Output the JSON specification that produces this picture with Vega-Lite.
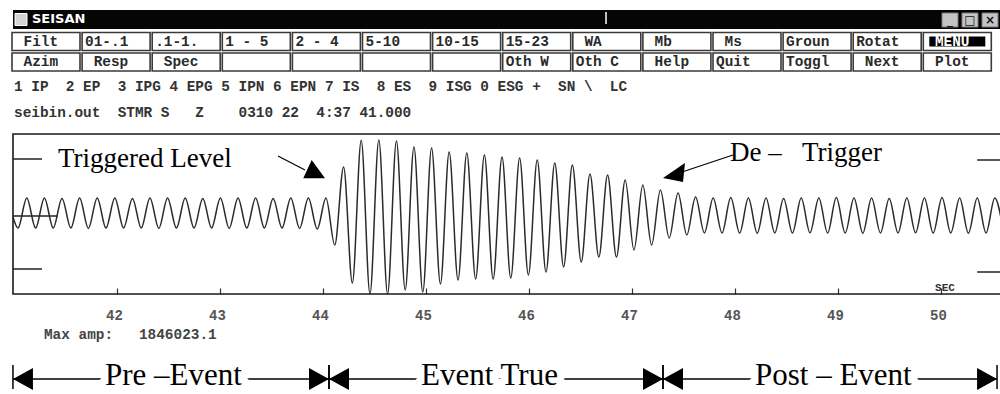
{
  "$schema": "https://vega.github.io/schema/vega-lite/v6.json",
  "width": 1000,
  "height": 394,
  "autosize": {"type": "none"},
  "padding": 0,
  "background": "white",
  "config": {"view": {"stroke": null}},
  "datasets": {
    "trace": [
      {"t":40.990,"amp":-75000},{"t":41.039,"amp":-350000},{"t":41.124,"amp":400000},{"t":41.210,"amp":-350000},
      {"t":41.295,"amp":400000},{"t":41.381,"amp":-350000},{"t":41.466,"amp":390000},{"t":41.552,"amp":-350000},
      {"t":41.637,"amp":400000},{"t":41.722,"amp":-360000},{"t":41.808,"amp":400000},{"t":41.893,"amp":-350000},
      {"t":41.979,"amp":400000},{"t":42.064,"amp":-350000},{"t":42.150,"amp":390000},{"t":42.235,"amp":-350000},
      {"t":42.320,"amp":400000},{"t":42.406,"amp":-360000},{"t":42.491,"amp":400000},{"t":42.577,"amp":-350000},
      {"t":42.662,"amp":400000},{"t":42.748,"amp":-350000},{"t":42.833,"amp":390000},{"t":42.918,"amp":-350000},
      {"t":43.004,"amp":400000},{"t":43.089,"amp":-360000},{"t":43.175,"amp":400000},{"t":43.260,"amp":-350000},
      {"t":43.346,"amp":400000},{"t":43.431,"amp":-350000},{"t":43.516,"amp":390000},{"t":43.602,"amp":-350000},
      {"t":43.687,"amp":400000},{"t":43.773,"amp":-360000},{"t":43.858,"amp":400000},{"t":43.944,"amp":-375000},
      {"t":44.029,"amp":400000},{"t":44.114,"amp":-775000},{"t":44.200,"amp":1175000},{"t":44.285,"amp":-1725000},
      {"t":44.371,"amp":1846023},{"t":44.456,"amp":-2000000},{"t":44.542,"amp":1850000},{"t":44.627,"amp":-2000000},
      {"t":44.713,"amp":1825000},{"t":44.798,"amp":-1900000},{"t":44.883,"amp":1675000},{"t":44.969,"amp":-1950000},
      {"t":45.054,"amp":1650000},{"t":45.140,"amp":-1750000},{"t":45.225,"amp":1550000},{"t":45.311,"amp":-1650000},
      {"t":45.396,"amp":1525000},{"t":45.482,"amp":-1625000},{"t":45.567,"amp":1475000},{"t":45.652,"amp":-1625000},
      {"t":45.738,"amp":1425000},{"t":45.823,"amp":-1600000},{"t":45.909,"amp":1400000},{"t":45.994,"amp":-1525000},
      {"t":46.080,"amp":1350000},{"t":46.165,"amp":-1450000},{"t":46.250,"amp":1275000},{"t":46.336,"amp":-1325000},
      {"t":46.421,"amp":1225000},{"t":46.507,"amp":-1200000},{"t":46.592,"amp":1000000},{"t":46.678,"amp":-1075000},
      {"t":46.763,"amp":975000},{"t":46.849,"amp":-1075000},{"t":46.934,"amp":850000},{"t":47.019,"amp":-900000},
      {"t":47.105,"amp":725000},{"t":47.190,"amp":-775000},{"t":47.276,"amp":600000},{"t":47.361,"amp":-600000},
      {"t":47.447,"amp":525000},{"t":47.532,"amp":-525000},{"t":47.617,"amp":425000},{"t":47.703,"amp":-475000},
      {"t":47.788,"amp":400000},{"t":47.874,"amp":-475000},{"t":47.959,"amp":410000},{"t":48.045,"amp":-475000},
      {"t":48.130,"amp":400000},{"t":48.216,"amp":-480000},{"t":48.301,"amp":400000},{"t":48.386,"amp":-475000},
      {"t":48.472,"amp":390000},{"t":48.557,"amp":-475000},{"t":48.643,"amp":400000},{"t":48.728,"amp":-470000},
      {"t":48.814,"amp":400000},{"t":48.899,"amp":-475000},{"t":48.984,"amp":410000},{"t":49.070,"amp":-475000},
      {"t":49.155,"amp":400000},{"t":49.241,"amp":-480000},{"t":49.326,"amp":400000},{"t":49.412,"amp":-475000},
      {"t":49.497,"amp":390000},{"t":49.583,"amp":-475000},{"t":49.668,"amp":400000},{"t":49.753,"amp":-470000},
      {"t":49.839,"amp":400000},{"t":49.924,"amp":-475000},{"t":50.010,"amp":410000},{"t":50.095,"amp":-475000},
      {"t":50.181,"amp":400000},{"t":50.266,"amp":-480000},{"t":50.352,"amp":400000},{"t":50.437,"amp":-475000},
      {"t":50.522,"amp":400000},{"t":50.608,"amp":-475000}
    ],
    "markers": [
      {"from": 40.990, "to": 41.272, "level": 1375000},
      {"from": 40.990, "to": 41.272, "level": -1375000},
      {"from": 40.990, "to": 41.427, "level": -50000},
      {"from": 50.350, "to": 50.600, "level": 1350000},
      {"from": 50.350, "to": 50.600, "level": -1450000}
    ],
    "notes": [
      {"kind": "trigger", "note": "Triggered Level", "tx": 41.427, "ty": 1175000, "ax1": 43.563, "ay1": 1450000, "ax2": 43.825, "ay2": 1100000, "hx": 43.890, "hy": 1350000},
      {"kind": "detrigger", "note": "De –\u00a0\u00a0\u00a0Trigger", "tx": 47.951, "ty": 1325000, "ax1": 47.980, "ay1": 1475000, "ax2": 47.486, "ay2": 1050000, "hx": 47.301, "hy": 900000}
    ],
    "phases": [
      {"phase": "Pre –Event", "start": 40.990, "end": 44.058},
      {"phase": "Event True", "start": 44.058, "end": 47.301},
      {"phase": "Post – Event", "start": 47.301, "end": 50.544}
    ],
    "buttons": [
      {"row": 1, "col": 0, "label": "\u00a0Filt", "active": false},
      {"row": 1, "col": 1, "label": "01-.1", "active": false},
      {"row": 1, "col": 2, "label": ".1-1.", "active": false},
      {"row": 1, "col": 3, "label": "1\u00a0-\u00a05", "active": false},
      {"row": 1, "col": 4, "label": "2\u00a0-\u00a04", "active": false},
      {"row": 1, "col": 5, "label": "5-10", "active": false},
      {"row": 1, "col": 6, "label": "10-15", "active": false},
      {"row": 1, "col": 7, "label": "15-23", "active": false},
      {"row": 1, "col": 8, "label": "\u00a0WA", "active": false},
      {"row": 1, "col": 9, "label": "\u00a0Mb", "active": false},
      {"row": 1, "col": 10, "label": "\u00a0Ms", "active": false},
      {"row": 1, "col": 11, "label": "Groun", "active": false},
      {"row": 1, "col": 12, "label": "Rotat", "active": false},
      {"row": 1, "col": 13, "label": "\u00a0MENU", "active": true},
      {"row": 2, "col": 0, "label": "\u00a0Azim", "active": false},
      {"row": 2, "col": 1, "label": "\u00a0Resp", "active": false},
      {"row": 2, "col": 2, "label": "\u00a0Spec", "active": false},
      {"row": 2, "col": 3, "label": "", "active": false},
      {"row": 2, "col": 4, "label": "", "active": false},
      {"row": 2, "col": 5, "label": "", "active": false},
      {"row": 2, "col": 6, "label": "", "active": false},
      {"row": 2, "col": 7, "label": "Oth\u00a0W", "active": false},
      {"row": 2, "col": 8, "label": "Oth\u00a0C", "active": false},
      {"row": 2, "col": 9, "label": "\u00a0Help", "active": false},
      {"row": 2, "col": 10, "label": "Quit", "active": false},
      {"row": 2, "col": 11, "label": "Toggl", "active": false},
      {"row": 2, "col": 12, "label": "\u00a0Next", "active": false},
      {"row": 2, "col": 13, "label": "\u00a0Plot", "active": false}
    ]
  },
  "resolve": {"scale": {"x": "independent", "y": "independent"}, "axis": {"x": "independent", "y": "independent"}},
  "layer": [
    {
      "resolve": {"axis": {"x": "independent", "y": "independent"}},
      "layer": [
        {
          "data": {"values": [{"frame": "trace"}]},
          "mark": {"type": "rect", "fill": "transparent", "stroke": "#1a1a1a", "strokeWidth": 1.6},
          "encoding": {
            "x": {"datum": 40.9903, "type": "quantitative", "scale": {"domain": [40.8641, 50.5728], "nice": false, "zero": false}, "axis": null},
            "x2": {"datum": 50.7},
            "y": {"datum": 2000000, "type": "quantitative", "scale": {"domain": [-4500000, 5350000], "nice": false, "zero": false}, "axis": null},
            "y2": {"datum": -2000000}
          }
        },
        {
          "data": {"name": "markers"},
          "mark": {"type": "rule", "stroke": "#222222", "strokeWidth": 1.5},
          "encoding": {
            "x": {"field": "from", "type": "quantitative", "scale": {"domain": [40.8641, 50.5728], "nice": false, "zero": false}, "axis": null},
            "x2": {"field": "to"},
            "y": {"field": "level", "type": "quantitative", "scale": {"domain": [-4500000, 5350000], "nice": false, "zero": false}, "axis": null}
          }
        },
        {
          "data": {"name": "trace"},
          "mark": {"type": "line", "interpolate": "monotone", "stroke": "#2b2b2b", "strokeWidth": 1.5},
          "encoding": {
            "x": {"field": "t", "type": "quantitative", "scale": {"domain": [40.8641, 50.5728], "nice": false, "zero": false},
              "axis": {"orient": "bottom", "offset": -100, "values": [42, 43, 44, 45, 46, 47, 48, 49, 50], "format": "d", "domain": false, "grid": false, "title": null,
                "ticks": true, "tickSize": -6, "tickColor": "#333333", "tickWidth": 1.2, "labelFlush": false, "labelOverlap": false,
                "labelFont": "Liberation Mono", "labelFontSize": 14, "labelFontWeight": "bold", "labelColor": "#555555", "labelPadding": 20, "labelOffset": -3}},
            "y": {"field": "amp", "type": "quantitative", "scale": {"domain": [-4500000, 5350000], "nice": false, "zero": false}, "axis": null}
          }
        },
        {
          "data": {"values": [{"unit": "SEC", "maxamp": "Max\u00a0amp:\u00a0\u00a0\u00a01846023.1"}]},
          "mark": {"type": "text", "font": "Liberation Mono", "fontWeight": "bold", "fontSize": 11, "fill": "#333333", "align": "center", "baseline": "middle"},
          "encoding": {
            "x": {"datum": 50.039, "type": "quantitative", "scale": {"domain": [40.8641, 50.5728], "nice": false, "zero": false}, "axis": null},
            "y": {"datum": -1850000, "type": "quantitative", "scale": {"domain": [-4500000, 5350000], "nice": false, "zero": false}, "axis": null},
            "text": {"field": "unit"}
          }
        },
        {
          "data": {"values": [{"unit": "SEC", "maxamp": "Max\u00a0amp:\u00a0\u00a0\u00a01846023.1"}]},
          "mark": {"type": "text", "font": "Liberation Mono", "fontWeight": "bold", "fontSize": 14.4, "fill": "#444444", "align": "left", "baseline": "middle"},
          "encoding": {
            "x": {"datum": 41.291, "type": "quantitative", "scale": {"domain": [40.8641, 50.5728], "nice": false, "zero": false}, "axis": null},
            "y": {"datum": -3025000, "type": "quantitative", "scale": {"domain": [-4500000, 5350000], "nice": false, "zero": false}, "axis": null},
            "text": {"field": "maxamp"}
          }
        },
        {
          "data": {"name": "notes"},
          "mark": {"type": "rule", "stroke": "#000000", "strokeWidth": 1.2},
          "encoding": {
            "x": {"field": "ax1", "type": "quantitative", "scale": {"domain": [40.8641, 50.5728], "nice": false, "zero": false}, "axis": null},
            "x2": {"field": "ax2"},
            "y": {"field": "ay1", "type": "quantitative", "scale": {"domain": [-4500000, 5350000], "nice": false, "zero": false}, "axis": null},
            "y2": {"field": "ay2"}
          }
        },
        {
          "data": {"name": "notes"},
          "transform": [{"filter": "datum.kind === 'trigger'"}],
          "mark": {"type": "point", "filled": true, "opacity": 1, "color": "#000000", "strokeWidth": 0, "size": 529, "shape": "M0,0L-0.73,1.59L1.16,1.59Z"},
          "encoding": {
            "x": {"field": "hx", "type": "quantitative", "scale": {"domain": [40.8641, 50.5728], "nice": false, "zero": false}, "axis": null},
            "y": {"field": "hy", "type": "quantitative", "scale": {"domain": [-4500000, 5350000], "nice": false, "zero": false}, "axis": null}
          }
        },
        {
          "data": {"name": "notes"},
          "transform": [{"filter": "datum.kind === 'detrigger'"}],
          "mark": {"type": "point", "filled": true, "opacity": 1, "color": "#000000", "strokeWidth": 0, "size": 529, "shape": "M0,0L1.91,-1.3L1.74,0.35Z"},
          "encoding": {
            "x": {"field": "hx", "type": "quantitative", "scale": {"domain": [40.8641, 50.5728], "nice": false, "zero": false}, "axis": null},
            "y": {"field": "hy", "type": "quantitative", "scale": {"domain": [-4500000, 5350000], "nice": false, "zero": false}, "axis": null}
          }
        },
        {
          "data": {"name": "notes"},
          "mark": {"type": "text", "font": "Liberation Serif", "fontSize": 27, "fill": "#000000", "align": "left", "baseline": "alphabetic"},
          "encoding": {
            "x": {"field": "tx", "type": "quantitative", "scale": {"domain": [40.8641, 50.5728], "nice": false, "zero": false}, "axis": null},
            "y": {"field": "ty", "type": "quantitative", "scale": {"domain": [-4500000, 5350000], "nice": false, "zero": false}, "axis": null},
            "text": {"field": "note"}
          }
        },
        {
          "data": {"name": "phases"},
          "mark": {"type": "rule", "stroke": "#000000", "strokeWidth": 1.5},
          "encoding": {
            "x": {"field": "start", "type": "quantitative", "scale": {"domain": [40.8641, 50.5728], "nice": false, "zero": false}, "axis": null},
            "x2": {"field": "end"},
            "y": {"datum": -4125000, "type": "quantitative", "scale": {"domain": [-4500000, 5350000], "nice": false, "zero": false}, "axis": null}
          }
        },
        {
          "data": {"name": "phases"},
          "mark": {"type": "text", "font": "Liberation Serif", "fontSize": 31, "fill": "#ffffff", "stroke": "#ffffff", "strokeWidth": 15, "strokeJoin": "round", "align": "left", "baseline": "alphabetic", "dx": 92},
          "encoding": {
            "x": {"field": "start", "type": "quantitative", "scale": {"domain": [40.8641, 50.5728], "nice": false, "zero": false}, "axis": null},
            "y": {"datum": -4275000, "type": "quantitative", "scale": {"domain": [-4500000, 5350000], "nice": false, "zero": false}, "axis": null},
            "text": {"field": "phase"}
          }
        },
        {
          "data": {"name": "phases"},
          "mark": {"type": "text", "font": "Liberation Serif", "fontSize": 31, "fill": "#000000", "align": "left", "baseline": "alphabetic", "dx": 92},
          "encoding": {
            "x": {"field": "start", "type": "quantitative", "scale": {"domain": [40.8641, 50.5728], "nice": false, "zero": false}, "axis": null},
            "y": {"datum": -4275000, "type": "quantitative", "scale": {"domain": [-4500000, 5350000], "nice": false, "zero": false}, "axis": null},
            "text": {"field": "phase"}
          }
        },
        {
          "data": {"name": "phases"},
          "mark": {"type": "point", "filled": true, "opacity": 1, "color": "#000000", "strokeWidth": 0, "size": 1600, "shape": "M0,0L1,-0.55L1,0.55Z"},
          "encoding": {
            "x": {"field": "start", "type": "quantitative", "scale": {"domain": [40.8641, 50.5728], "nice": false, "zero": false}, "axis": null},
            "y": {"datum": -4125000, "type": "quantitative", "scale": {"domain": [-4500000, 5350000], "nice": false, "zero": false}, "axis": null}
          }
        },
        {
          "data": {"name": "phases"},
          "mark": {"type": "point", "filled": true, "opacity": 1, "color": "#000000", "strokeWidth": 0, "size": 1600, "shape": "M0,0L-1,-0.55L-1,0.55Z"},
          "encoding": {
            "x": {"field": "end", "type": "quantitative", "scale": {"domain": [40.8641, 50.5728], "nice": false, "zero": false}, "axis": null},
            "y": {"datum": -4125000, "type": "quantitative", "scale": {"domain": [-4500000, 5350000], "nice": false, "zero": false}, "axis": null}
          }
        },
        {
          "data": {"name": "phases"},
          "mark": {"type": "rule", "stroke": "#000000", "strokeWidth": 1.5},
          "encoding": {
            "x": {"field": "start", "type": "quantitative", "scale": {"domain": [40.8641, 50.5728], "nice": false, "zero": false}, "axis": null},
            "y": {"datum": -3775000, "type": "quantitative", "scale": {"domain": [-4500000, 5350000], "nice": false, "zero": false}, "axis": null},
            "y2": {"datum": -4375000}
          }
        },
        {
          "data": {"name": "phases"},
          "mark": {"type": "rule", "stroke": "#000000", "strokeWidth": 1.5},
          "encoding": {
            "x": {"field": "end", "type": "quantitative", "scale": {"domain": [40.8641, 50.5728], "nice": false, "zero": false}, "axis": null},
            "y": {"datum": -3775000, "type": "quantitative", "scale": {"domain": [-4500000, 5350000], "nice": false, "zero": false}, "axis": null},
            "y2": {"datum": -4375000}
          }
        }
      ]
    },
    {
      "layer": [
        {
          "data": {"values": [{"title": "SEISAN"}]},
          "mark": {"type": "rect", "fill": "#050505"},
          "encoding": {
            "x": {"datum": -0.4707, "type": "quantitative", "scale": {"domain": [-0.6562, 13.6091], "nice": false, "zero": false}, "axis": null},
            "x2": {"datum": 13.7},
            "y": {"datum": -0.5366, "type": "quantitative", "scale": {"domain": [-1.0244, 18.1951], "nice": false, "zero": false, "reverse": true}, "axis": null},
            "y2": {"datum": 0.3902}
          }
        },
        {
          "data": {"values": [{"title": "SEISAN"}]},
          "mark": {"type": "rect", "fill": "#d4d4d4", "stroke": "#ffffff", "strokeWidth": 1, "width": 12, "height": 12, "align": "center", "baseline": "middle"},
          "encoding": {
            "x": {"datum": -0.3566, "type": "quantitative", "scale": {"domain": [-0.6562, 13.6091], "nice": false, "zero": false}, "axis": null},
            "y": {"datum": -0.0732, "type": "quantitative", "scale": {"domain": [-1.0244, 18.1951], "nice": false, "zero": false, "reverse": true}, "axis": null}
          }
        },
        {
          "data": {"values": [{"title": "SEISAN"}]},
          "mark": {"type": "text", "font": "DejaVu Sans", "fontWeight": "bold", "fontSize": 13, "fill": "#ffffff", "align": "left", "baseline": "middle"},
          "encoding": {
            "x": {"datum": -0.1997, "type": "quantitative", "scale": {"domain": [-0.6562, 13.6091], "nice": false, "zero": false}, "axis": null},
            "y": {"datum": -0.0732, "type": "quantitative", "scale": {"domain": [-1.0244, 18.1951], "nice": false, "zero": false, "reverse": true}, "axis": null},
            "text": {"field": "title"}
          }
        },
        {
          "data": {"values": [{"title": "SEISAN"}]},
          "mark": {"type": "rule", "stroke": "#ffffff", "strokeWidth": 1.5},
          "encoding": {
            "x": {"datum": 7.989, "type": "quantitative", "scale": {"domain": [-0.6562, 13.6091], "nice": false, "zero": false}, "axis": null},
            "y": {"datum": -0.439, "type": "quantitative", "scale": {"domain": [-1.0244, 18.1951], "nice": false, "zero": false, "reverse": true}, "axis": null},
            "y2": {"datum": 0.146}
          }
        },
        {
          "data": {"name": "buttons"},
          "mark": {"type": "rect", "fill": "#ffffff", "stroke": "#3a3a3a", "strokeWidth": 1.6, "width": 68, "height": 18, "align": "center", "baseline": "middle"},
          "encoding": {
            "x": {"field": "col", "type": "quantitative", "scale": {"domain": [-0.6562, 13.6091], "nice": false, "zero": false}, "axis": null},
            "y": {"field": "row", "type": "quantitative", "scale": {"domain": [-1.0244, 18.1951], "nice": false, "zero": false, "reverse": true}, "axis": null}
          }
        },
        {
          "data": {"name": "buttons"},
          "transform": [{"filter": "datum.active"}],
          "mark": {"type": "rect", "fill": "#000000", "width": 56, "height": 10, "align": "center", "baseline": "middle"},
          "encoding": {
            "x": {"field": "col", "type": "quantitative", "scale": {"domain": [-0.6562, 13.6091], "nice": false, "zero": false}, "axis": null},
            "y": {"field": "row", "type": "quantitative", "scale": {"domain": [-1.0244, 18.1951], "nice": false, "zero": false, "reverse": true}, "axis": null}
          }
        },
        {
          "data": {"name": "buttons"},
          "transform": [{"filter": "indexof(datum.label, '\u00a0') !== 0"}],
          "mark": {"type": "text", "font": "Liberation Mono", "fontWeight": "bold", "fontSize": 14.4, "align": "left", "baseline": "middle", "dx": -31},
          "encoding": {
            "x": {"field": "col", "type": "quantitative", "scale": {"domain": [-0.6562, 13.6091], "nice": false, "zero": false}, "axis": null},
            "y": {"field": "row", "type": "quantitative", "scale": {"domain": [-1.0244, 18.1951], "nice": false, "zero": false, "reverse": true}, "axis": null},
            "text": {"field": "label"},
            "color": {"condition": {"test": "datum.active", "value": "#ffffff"}, "value": "#2a2a2a"}
          }
        },
        {
          "data": {"name": "buttons"},
          "transform": [{"filter": "indexof(datum.label, '\u00a0') === 0"}],
          "mark": {"type": "text", "font": "Liberation Mono", "fontWeight": "bold", "fontSize": 14.4, "align": "left", "baseline": "middle", "dx": -22.4},
          "encoding": {
            "x": {"field": "col", "type": "quantitative", "scale": {"domain": [-0.6562, 13.6091], "nice": false, "zero": false}, "axis": null},
            "y": {"field": "row", "type": "quantitative", "scale": {"domain": [-1.0244, 18.1951], "nice": false, "zero": false, "reverse": true}, "axis": null},
            "text": {"field": "label"},
            "color": {"condition": {"test": "datum.active", "value": "#ffffff"}, "value": "#2a2a2a"}
          }
        }
      ]
    },
    {
      "data": {"values": [{"slot": 0, "glyph": "_"}, {"slot": 1, "glyph": "□"}, {"slot": 2, "glyph": "×"}]},
      "layer": [
        {
          "mark": {"type": "rect", "fill": "#c4c4c4", "stroke": "#7a7a7a", "strokeWidth": 1, "width": 16, "height": 14, "align": "center", "baseline": "middle"},
          "encoding": {
            "x": {"field": "slot", "type": "quantitative", "scale": {"domain": [-47.5, 2.5], "nice": false, "zero": false}, "axis": null},
            "y": {"datum": -0.0488, "type": "quantitative", "scale": {"domain": [-1.0244, 18.1951], "nice": false, "zero": false, "reverse": true}, "axis": null}
          }
        },
        {
          "mark": {"type": "text", "font": "DejaVu Sans", "fontWeight": "bold", "fontSize": 12, "fill": "#111111", "align": "center", "baseline": "middle"},
          "encoding": {
            "x": {"field": "slot", "type": "quantitative", "scale": {"domain": [-47.5, 2.5], "nice": false, "zero": false}, "axis": null},
            "y": {"datum": -0.0488, "type": "quantitative", "scale": {"domain": [-1.0244, 18.1951], "nice": false, "zero": false, "reverse": true}, "axis": null},
            "text": {"field": "glyph"}
          }
        }
      ]
    },
    {
      "data": {"values": [
        {"line": 3, "text": "1\u00a0IP\u00a0\u00a02\u00a0EP\u00a0\u00a03\u00a0IPG\u00a04\u00a0EPG\u00a05\u00a0IPN\u00a06\u00a0EPN\u00a07\u00a0IS\u00a0\u00a08\u00a0ES\u00a0\u00a09\u00a0ISG\u00a00\u00a0ESG\u00a0+\u00a0\u00a0SN\u00a0\\\u00a0\u00a0LC"},
        {"line": 4, "text": "seibin.out\u00a0\u00a0STMR\u00a0S\u00a0\u00a0\u00a0Z\u00a0\u00a0\u00a0\u00a00310\u00a022\u00a0\u00a04:37\u00a041.000"}
      ]},
      "mark": {"type": "text", "font": "Liberation Mono", "fontWeight": "bold", "fontSize": 14.4, "fill": "#333333", "align": "left", "baseline": "middle"},
      "encoding": {
        "x": {"datum": -0.4565, "type": "quantitative", "scale": {"domain": [-0.6562, 13.6091], "nice": false, "zero": false}, "axis": null},
        "y": {"field": "line", "type": "quantitative", "scale": {"domain": [-0.3462, 14.8077], "nice": false, "zero": false, "reverse": true}, "axis": null},
        "text": {"field": "text"}
      }
    }
  ]
}
